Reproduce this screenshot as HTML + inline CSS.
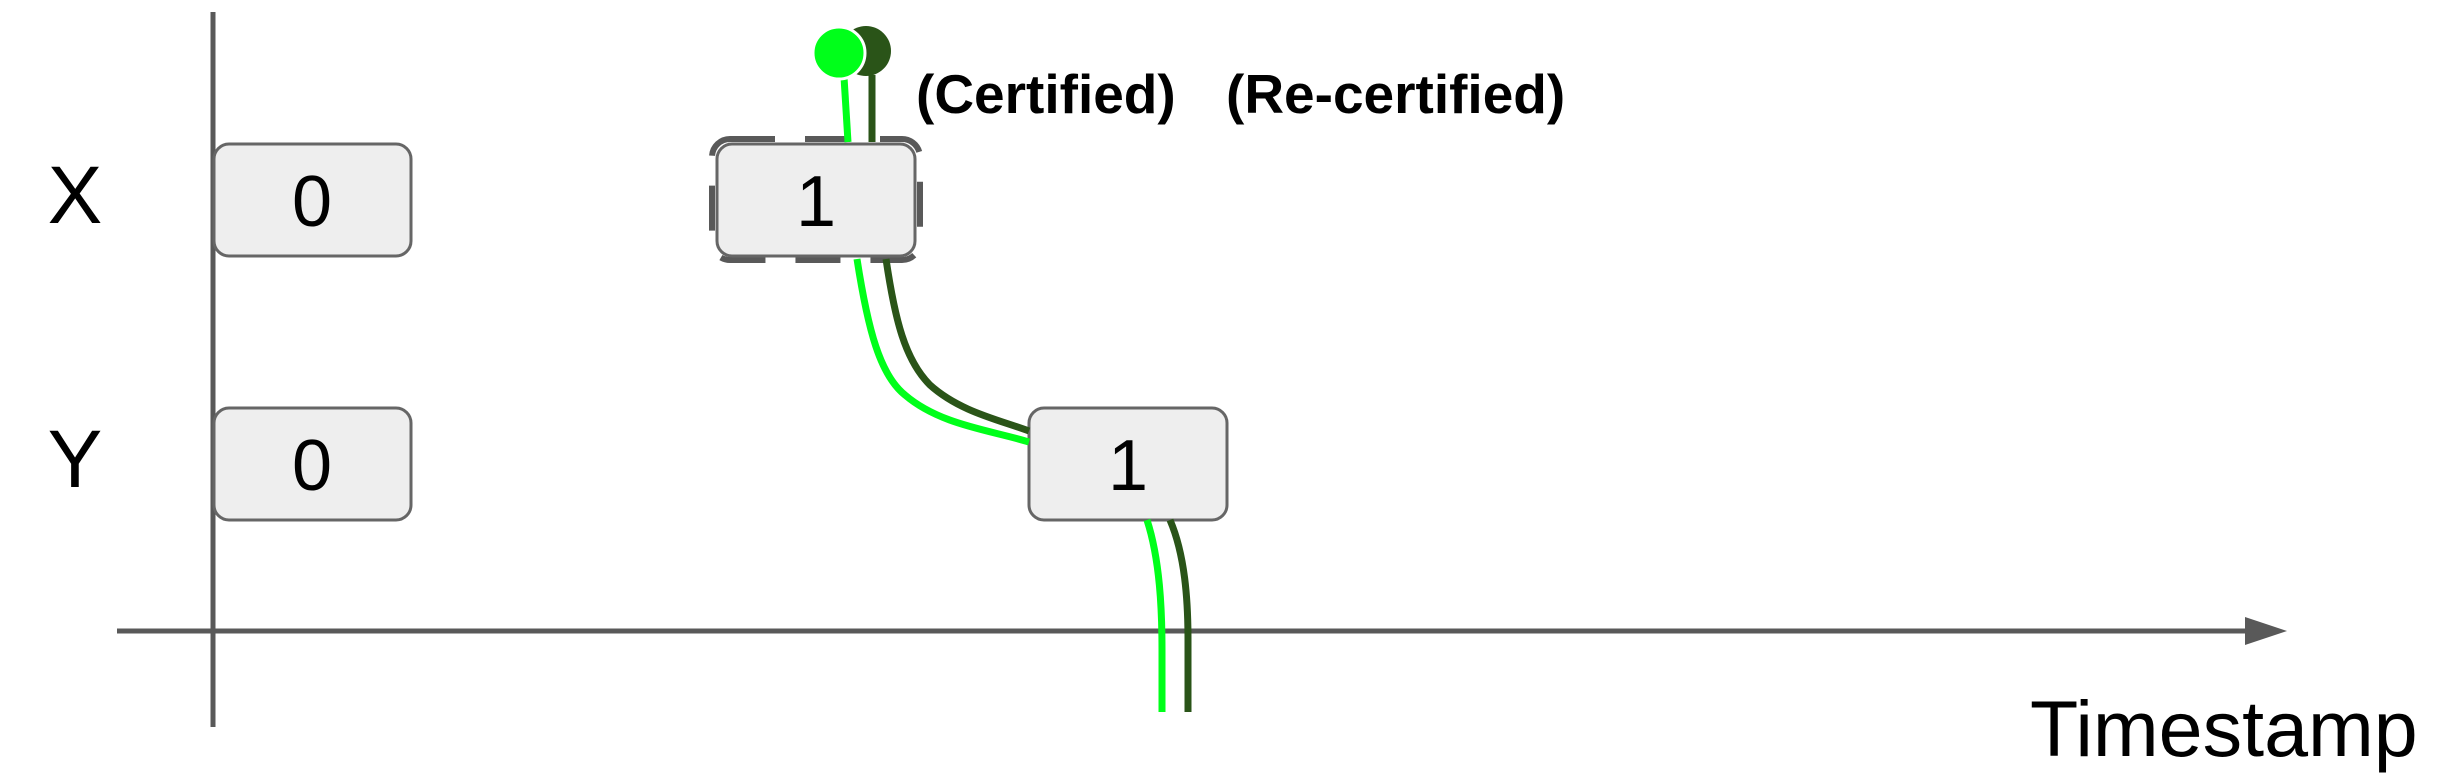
<!DOCTYPE html>
<html><head><meta charset="utf-8"><style>
html,body{margin:0;padding:0;background:#fff;width:2445px;height:781px;overflow:hidden}
svg text{font-family:"Liberation Sans",Arial,sans-serif}
</style></head><body>
<svg width="2445" height="781" viewBox="0 0 2445 781">
<g stroke="#595959" stroke-width="5" fill="none">
<line x1="213" y1="12" x2="213" y2="727"/>
<line x1="117" y1="631" x2="2250" y2="631"/>
</g>
<polygon points="2245,617 2287,631 2245,645" fill="#595959"/>
<text x="75" y="223" font-size="82" text-anchor="middle">X</text>
<text x="75" y="487" font-size="82" text-anchor="middle">Y</text>
<g fill="#eeeeee" stroke="#666" stroke-width="3">
<rect x="214" y="144" width="197" height="112" rx="15"/>
<rect x="214" y="408" width="197" height="112" rx="15"/>
<rect x="1029" y="408" width="198" height="112" rx="15"/>
<rect x="712" y="139" width="208" height="121" rx="18" fill="none" stroke="#595959" stroke-width="6" stroke-dasharray="45 30"/>
<rect x="717" y="144" width="198" height="112" rx="15"/>
</g>
<g font-size="72" text-anchor="middle">
<text x="312" y="226">0</text>
<text x="312" y="490">0</text>
<text x="816" y="226">1</text>
<text x="1128" y="490">1</text>
</g>
<g fill="none" stroke-width="7" stroke-linecap="butt">
<path d="M872,75 L872,142" stroke="#2a5418"/>
<path d="M844,77 L848,142" stroke="#00ff1a"/>
<path d="M886,259 C895,320 905,360 930,385 C960,412 1000,420 1029,431" stroke="#2a5418"/>
<path d="M857,259 C868,330 880,375 905,395 C940,425 990,430 1029,442" stroke="#00ff1a"/>
<path d="M1170,520 C1185,555 1188,600 1188,640 L1188,712" stroke="#2a5418"/>
<path d="M1147,520 C1160,560 1162,610 1162,650 L1162,712" stroke="#00ff1a"/>
</g>
<circle cx="866" cy="51" r="25" fill="#2a5418"/>
<circle cx="839" cy="53" r="26" fill="#00ff1a" stroke="#fff" stroke-width="3"/>
<g font-size="55" font-weight="bold">
<text x="916" y="113">(Certified)</text>
<text x="1226" y="113">(Re-certified)</text>
</g>
<text x="2030" y="756" font-size="79">Timestamp</text>
</svg>
</body></html>
